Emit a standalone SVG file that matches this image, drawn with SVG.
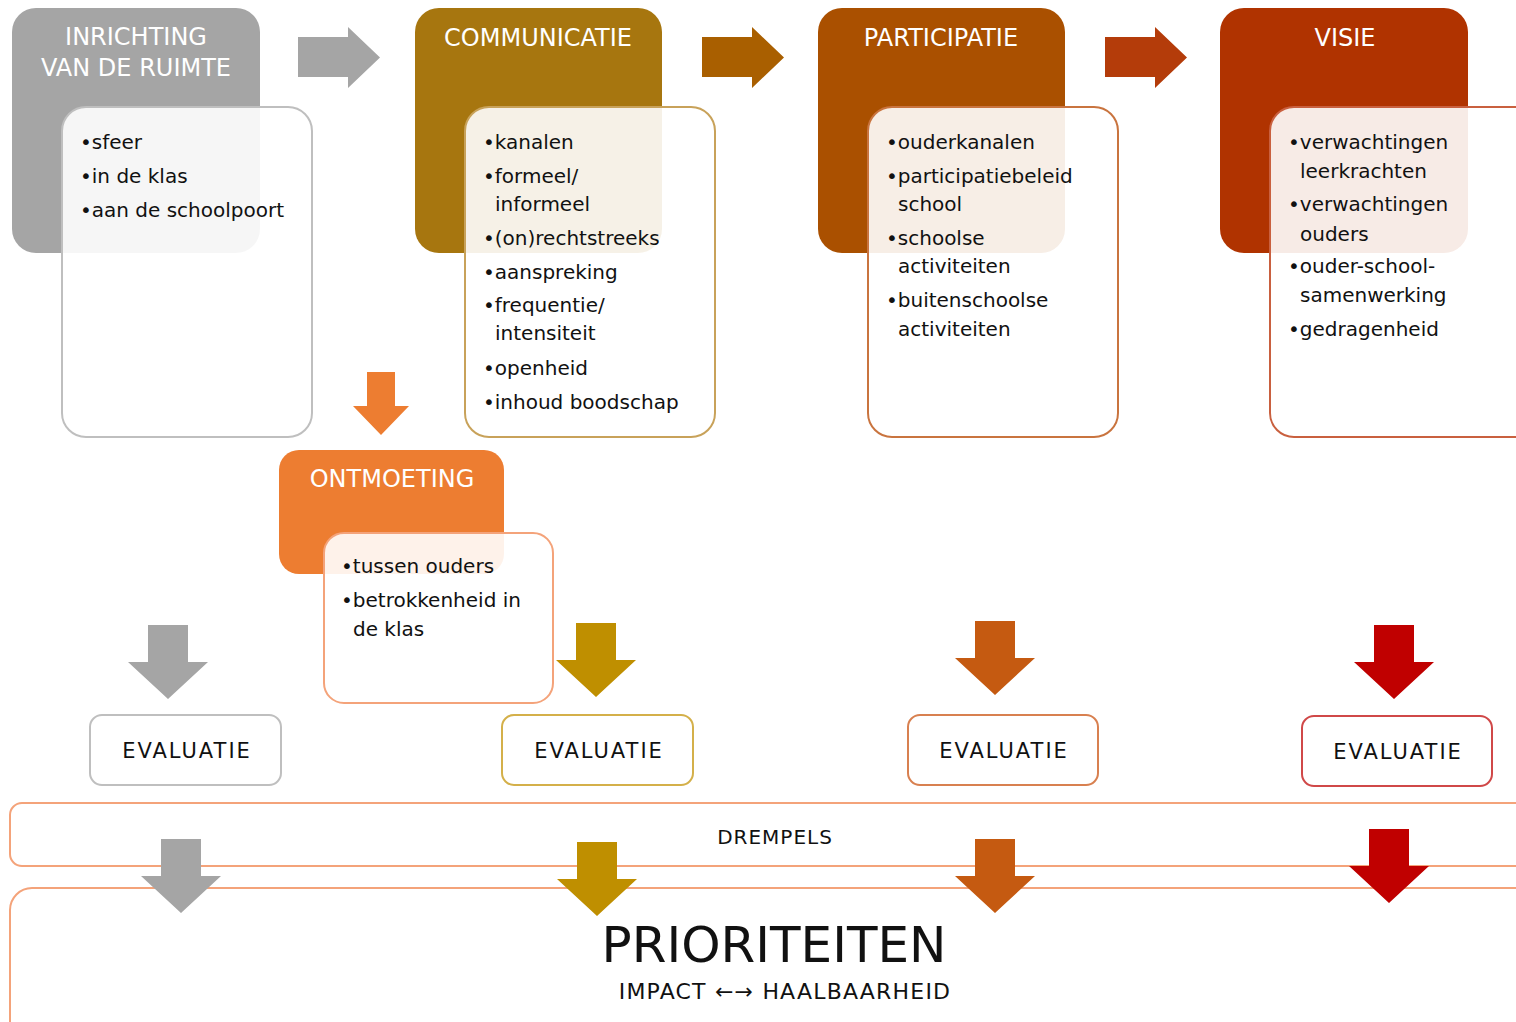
<svg xmlns="http://www.w3.org/2000/svg" xmlns:xlink="http://www.w3.org/1999/xlink" width="1516" height="1022" viewBox="0 0 1516 1022">
<style>
.title{font-family:"DejaVu Sans","Liberation Sans",sans-serif;font-size:24px;fill:#ffffff;text-anchor:middle}
.item{font-family:"DejaVu Sans","Liberation Sans",sans-serif;font-size:20px;fill:#111111}
.card{fill:#ffffff;fill-opacity:0.9;stroke-width:2}
.eval{fill:#ffffff;stroke-width:2}
.evt{font-family:"DejaVu Sans","Liberation Sans",sans-serif;font-size:21px;fill:#111111;text-anchor:middle;letter-spacing:2px}
.band{fill:none;stroke:#F4A37A;stroke-width:2}
</style>
<defs>
<path id="rarrow" d="M0,10 H50 V0 L82,30.5 L50,61 V50 H0 Z"/>
<path id="darrow" d="M-20,0 H20 V37 H40 L0,74 L-40,37 H-20 Z"/>
</defs>
<rect width="1516" height="1022" fill="#ffffff"/>

<g id="band-drempels">
<rect class="band" x="10" y="803" width="1530" height="63" rx="12"/>
<text x="775" y="844" font-family="DejaVu Sans, Liberation Sans, sans-serif" font-size="20" fill="#111" text-anchor="middle" letter-spacing="1">DREMPELS</text>
</g>
<g id="prioriteiten">
<rect class="band" x="10" y="888" width="1530" height="160" rx="22"/>
<text x="774" y="962" font-family="DejaVu Sans, Liberation Sans, sans-serif" font-size="50" fill="#111" text-anchor="middle">PRIORITEITEN</text>
<text x="785" y="999" font-family="DejaVu Sans, Liberation Sans, sans-serif" font-size="22" fill="#111" text-anchor="middle" letter-spacing="1.2">IMPACT ←→ HAALBAARHEID</text>
</g>

<g id="inrichting">
<rect x="12" y="8" width="248" height="245" rx="24" fill="#A5A5A5"/>
<text class="title" x="136" y="45">INRICHTING</text>
<text class="title" x="136" y="76">VAN DE RUIMTE</text>
<rect class="card" x="62" y="107" width="250" height="330" rx="24" stroke="#BFBFBF"/>
<text class="item" x="80" y="149">•sfeer</text>
<text class="item" x="80" y="183">•in de klas</text>
<text class="item" x="80" y="217">•aan de schoolpoort</text>
</g>

<g id="communicatie">
<rect x="415" y="8" width="247" height="245" rx="24" fill="#A7760F"/>
<text class="title" x="538" y="46">COMMUNICATIE</text>
<rect class="card" x="465" y="107" width="250" height="330" rx="24" stroke="#C8A25A"/>
<text class="item" x="483" y="149">•kanalen</text>
<text class="item" x="483" y="183">•formeel/</text>
<text class="item" x="495" y="211">informeel</text>
<text class="item" x="483" y="245">•(on)rechtstreeks</text>
<text class="item" x="483" y="279">•aanspreking</text>
<text class="item" x="483" y="312">•frequentie/</text>
<text class="item" x="495" y="340">intensiteit</text>
<text class="item" x="483" y="375">•openheid</text>
<text class="item" x="483" y="409">•inhoud boodschap</text>
</g>

<g id="participatie">
<rect x="818" y="8" width="247" height="245" rx="24" fill="#AA5000"/>
<text class="title" x="941" y="46">PARTICIPATIE</text>
<rect class="card" x="868" y="107" width="250" height="330" rx="24" stroke="#C9743F"/>
<text class="item" x="886" y="149">•ouderkanalen</text>
<text class="item" x="886" y="183">•participatiebeleid</text>
<text class="item" x="898" y="211">school</text>
<text class="item" x="886" y="245">•schoolse</text>
<text class="item" x="898" y="273">activiteiten</text>
<text class="item" x="886" y="307">•buitenschoolse</text>
<text class="item" x="898" y="336">activiteiten</text>
</g>

<g id="visie">
<rect x="1220" y="8" width="248" height="245" rx="24" fill="#B03300"/>
<text class="title" x="1345" y="46">VISIE</text>
<rect class="card" x="1270" y="107" width="270" height="330" rx="24" stroke="#C9603F"/>
<text class="item" x="1288" y="149">•verwachtingen</text>
<text class="item" x="1300" y="178">leerkrachten</text>
<text class="item" x="1288" y="211">•verwachtingen</text>
<text class="item" x="1300" y="241">ouders</text>
<text class="item" x="1288" y="273">•ouder-school-</text>
<text class="item" x="1300" y="302">samenwerking</text>
<text class="item" x="1288" y="336">•gedragenheid</text>
</g>

<g id="ontmoeting">
<rect x="279" y="450" width="225" height="124" rx="20" fill="#ED7D31"/>
<text class="title" x="392" y="487">ONTMOETING</text>
<rect class="card" x="324" y="533" width="229" height="170" rx="20" stroke="#F4A37A"/>
<text class="item" x="341" y="573">•tussen ouders</text>
<text class="item" x="341" y="607">•betrokkenheid in</text>
<text class="item" x="353" y="636">de klas</text>
</g>

<g id="evaluatie-1">
<rect class="eval" x="90" y="715" width="191" height="70" rx="12" stroke="#BFBFBF"/>
<text class="evt" x="187" y="758">EVALUATIE</text>
</g>
<g id="evaluatie-2">
<rect class="eval" x="502" y="715" width="191" height="70" rx="12" stroke="#D4B04A"/>
<text class="evt" x="599" y="758">EVALUATIE</text>
</g>
<g id="evaluatie-3">
<rect class="eval" x="908" y="715" width="190" height="70" rx="12" stroke="#D88050"/>
<text class="evt" x="1004" y="758">EVALUATIE</text>
</g>
<g id="evaluatie-4">
<rect class="eval" x="1302" y="716" width="190" height="70" rx="12" stroke="#D04848"/>
<text class="evt" x="1398" y="759">EVALUATIE</text>
</g>

<g id="connectors">
<use xlink:href="#rarrow" x="298" y="27" fill="#A5A5A5"/>
<use xlink:href="#rarrow" x="702" y="27" fill="#A95F00"/>
<use xlink:href="#rarrow" x="1105" y="27" fill="#B43C0A"/>
<path d="M367,372 H395 V406 H409 L381,435 L353,406 H367 Z" fill="#ED7D31"/>
<use xlink:href="#darrow" x="168" y="625" fill="#A5A5A5"/>
<use xlink:href="#darrow" x="596" y="623" fill="#BF8F00"/>
<use xlink:href="#darrow" x="995" y="621" fill="#C55A11"/>
<use xlink:href="#darrow" x="1394" y="625" fill="#C00000"/>
<use xlink:href="#darrow" x="181" y="839" fill="#A5A5A5"/>
<use xlink:href="#darrow" x="597" y="842" fill="#BF8F00"/>
<use xlink:href="#darrow" x="995" y="839" fill="#C55A11"/>
<use xlink:href="#darrow" x="1389" y="829" fill="#C00000"/>
</g>
</svg>
